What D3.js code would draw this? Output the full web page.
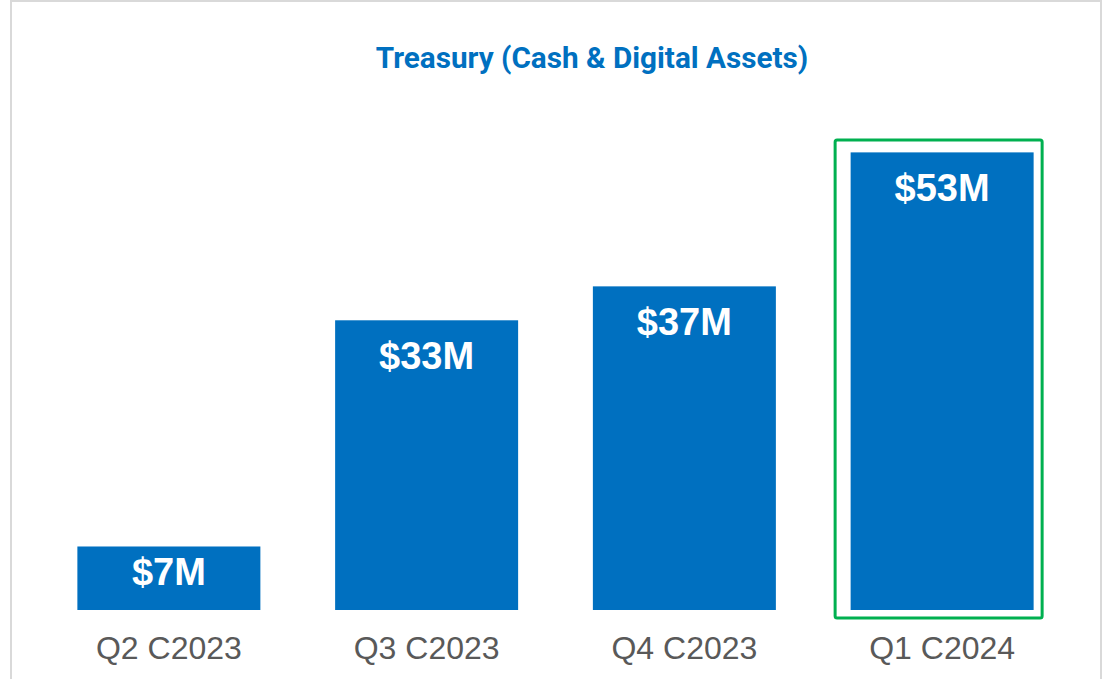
<!DOCTYPE html>
<meta charset="utf-8">
<style>
    body { margin: 0; background: #fff; }
    .title { font-family: Roboto, "Liberation Sans", sans-serif; font-weight: 700; font-size: 29.7px; fill: #0070C0; }
    .val { font-family: "Liberation Sans", Arial, sans-serif; font-weight: 700; font-size: 38px; fill: #fff; }
    .cat { font-family: "Liberation Sans", Arial, sans-serif; font-size: 32px; fill: #595959; }
</style>
<svg width="1105" height="679"></svg>
<script src="https://d3js.org/d3.v7.min.js"></script>
<script>

    var categories = ["Q2 C2023", "Q3 C2023", "Q4 C2023", "Q1 C2024"];
    var values = [7.3, 33.3, 37.2, 52.6];
    var labels = ["$7M", "$33M", "$37M", "$53M"];
    var highlighted = "Q1 C2024";

    var svg = d3.select("svg");

    // outer frame
    svg.append("rect")
        .attr("x", 11).attr("y", 1)
        .attr("width", 1090).attr("height", 700)
        .attr("fill", "none")
        .attr("stroke", "#d9d9d9")
        .attr("stroke-width", 2);

    svg.append("text")
        .attr("class", "title")
        .attr("x", 592).attr("y", 68)
        .attr("text-anchor", "middle")
        .text("Treasury (Cash & Digital Assets)");

    var x = d3.scaleBand()
        .domain(categories)
        .range([40, 1071])
        .paddingInner(0.29)
        .paddingOuter(0.145);

    var y = d3.scaleLinear()
        .domain([0, 60])
        .range([610, 88]);

    var data = categories.map(function (c, i) {
        return { c: c, v: values[i], l: labels[i] };
    });

    // highlight box
    svg.append("rect")
        .attr("x", x(highlighted) - 15.5)
        .attr("y", y(values[categories.indexOf(highlighted)]) - 12.5)
        .attr("width", x.bandwidth() + 24)
        .attr("height", y(0) - y(values[categories.indexOf(highlighted)]) + 20.5)
        .attr("rx", 2)
        .attr("fill", "none")
        .attr("stroke", "#00B050")
        .attr("stroke-width", 3);

    svg.selectAll(".bar")
        .data(data)
        .enter().append("rect")
        .attr("class", "bar")
        .attr("x", function (d) { return x(d.c); })
        .attr("y", function (d) { return y(d.v); })
        .attr("width", x.bandwidth())
        .attr("height", function (d) { return y(0) - y(d.v); })
        .attr("fill", "#0070C0");

    svg.selectAll(".val")
        .data(data)
        .enter().append("text")
        .attr("class", "val")
        .attr("text-anchor", "middle")
        .attr("x", function (d) { return x(d.c) + x.bandwidth() / 2; })
        .attr("y", function (d) { return Math.min(y(d.v) + 49, y(0) - 25); })
        .text(function (d) { return d.l; });

    svg.selectAll(".cat")
        .data(categories)
        .enter().append("text")
        .attr("class", "cat")
        .attr("text-anchor", "middle")
        .attr("x", function (d) { return x(d) + x.bandwidth() / 2; })
        .attr("y", 659)
        .text(function (d) { return d; });

</script>
